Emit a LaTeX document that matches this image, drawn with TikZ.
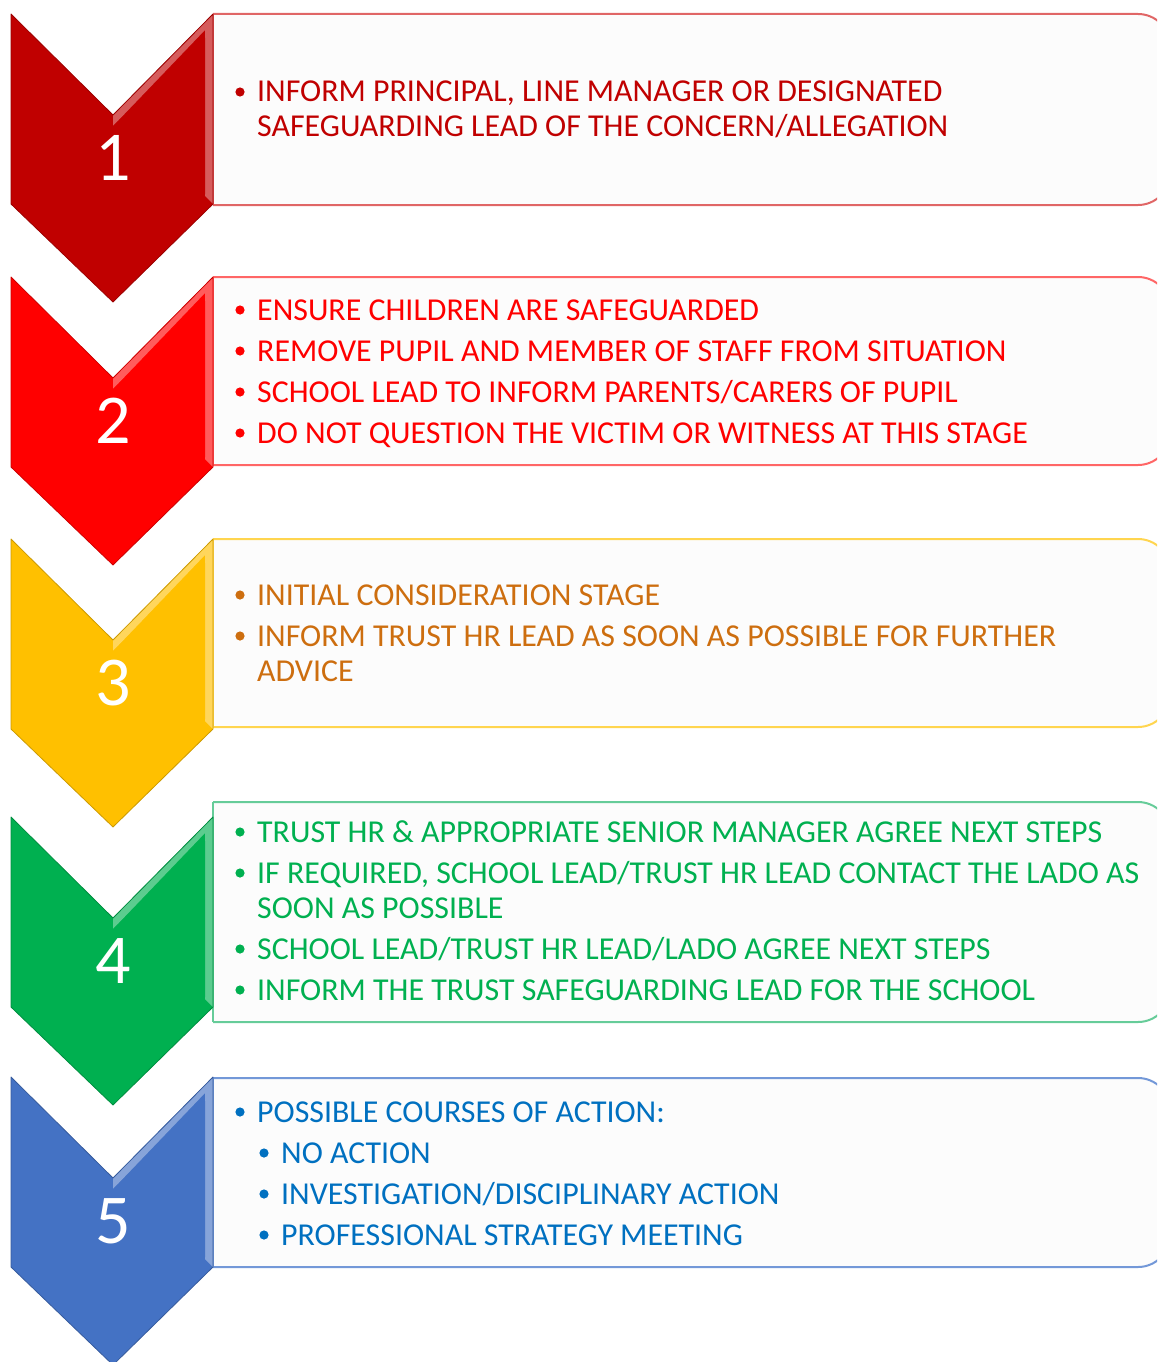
\documentclass[tikz,border=0pt]{standalone}
\usepackage{fontspec}
\setmainfont{Carlito}
\definecolor{c1}{HTML}{C00000}
\definecolor{c2}{HTML}{FF0000}
\definecolor{c3}{HTML}{FFC000}
\definecolor{c4}{HTML}{00B050}
\definecolor{c5}{HTML}{4472C4}
\definecolor{t1}{HTML}{C00000}
\definecolor{t2}{HTML}{FF0000}
\definecolor{t3}{RGB}{205,110,15}
\definecolor{t4}{HTML}{00B050}
\definecolor{t5}{HTML}{0070C0}
\definecolor{b1}{HTML}{E06666}
\definecolor{b2}{HTML}{FF6666}
\definecolor{b3}{HTML}{FFD54F}
\definecolor{b4}{HTML}{66CC99}
\definecolor{b5}{HTML}{7398D8}
\definecolor{boxfill}{HTML}{FCFCFC}
\tikzset{
  itemtext/.style={anchor=base west, inner sep=0pt, font=\fontsize{31.9}{38}\selectfont},
  numtext/.style={text=white, inner sep=0pt, font=\fontsize{70}{82}\selectfont},
}
% chevron: #1 top y, #2 colour
\newcommand{\mychev}[3]{%
  \fill[#2] (11,#1) -- (113,#1+101) -- (213,#1) -- (213,#1+190) -- (113,#1+288) -- (11,#1+190) -- cycle;
  \fill[#2!55!white, opacity=0.8] (113,#1+101) -- (213,#1) -- (213,#1+190) -- (205,#1+182) -- (205,#1+16) -- (113,#1+112) -- cycle;
  \fill[#2] (113,#1+112) -- (205,#1+24) -- (205,#1+180) -- (113,#1+120) -- cycle;
  \draw[#2!80!black, line width=0.8pt, line join=round] (11,#1) -- (113,#1+101) -- (213,#1) -- (213,#1+190) -- (113,#1+288) -- (11,#1+190) -- cycle;
  \node[numtext] (n#3) at (113,#1+144) {#3};
}
\newcommand{\mybox}[4]{%
  \draw[#3, line width=2pt, fill=boxfill, rounded corners=32pt] (213,#1) -- (1170,#1) -- (1170,#2) -- (213,#2);
  \fill[boxfill] (212,#1+1) rectangle (214,#2-1);
  \draw[#3, line width=2pt] (213,#1) -- (213,#2);
  \node[inner sep=0pt, minimum width=0pt] (#4) at (600,{(#1+#2)/2}) {};
}
\newcommand{\bul}[3]{\fill[#3] (#1,#2) circle (4.6);}
\begin{document}
\begin{tikzpicture}[x=1pt,y=-1pt]
\useasboundingbox (0,0) rectangle (1157,1362);
\clip (0,0) rectangle (1157,1362);
% boxes
\mybox{14}{205}{b1}{box1}
\mybox{277}{465}{b2}{box2}
\mybox{539}{727}{b3}{box3}
\mybox{802}{1022}{b4}{box4}
\mybox{1078}{1267}{b5}{box5}
% chevrons
\mychev{14}{c1}{1}
\mychev{277}{c2}{2}
\mychev{539}{c3}{3}
\mychev{817}{c4}{4}
\mychev{1077}{c5}{5}
% box 1
\bul{240}{92}{t1}
\node[itemtext, text=t1] (l11) at (257,102) {INFORM PRINCIPAL, LINE MANAGER OR DESIGNATED};
\node[itemtext, text=t1] (l12) at (257,137) {SAFEGUARDING LEAD OF THE CONCERN/ALLEGATION};
% box 2
\bul{240}{310}{t2}
\node[itemtext, text=t2] (l21) at (257,320) {ENSURE CHILDREN ARE SAFEGUARDED};
\bul{240}{351}{t2}
\node[itemtext, text=t2] (l22) at (257,361) {REMOVE PUPIL AND MEMBER OF STAFF FROM SITUATION};
\bul{240}{392}{t2}
\node[itemtext, text=t2] (l23) at (257,402) {SCHOOL LEAD TO INFORM PARENTS/CARERS OF PUPIL};
\bul{240}{433}{t2}
\node[itemtext, text=t2] (l24) at (257,443) {DO NOT QUESTION THE VICTIM OR WITNESS AT THIS STAGE};
% box 3
\bul{240}{595}{t3}
\node[itemtext, text=t3] (l31) at (257,605) {INITIAL CONSIDERATION STAGE};
\bul{240}{636}{t3}
\node[itemtext, text=t3] (l32) at (257,646) {INFORM TRUST HR LEAD AS SOON AS POSSIBLE FOR FURTHER};
\node[itemtext, text=t3] (l33) at (257,681) {ADVICE};
% box 4
\bul{240}{832}{t4}
\node[itemtext, text=t4] (l41) at (257,842) {TRUST HR \& APPROPRIATE SENIOR MANAGER AGREE NEXT STEPS};
\bul{240}{873}{t4}
\node[itemtext, text=t4] (l42) at (257,883) {IF REQUIRED, SCHOOL LEAD/TRUST HR LEAD CONTACT THE LADO AS};
\node[itemtext, text=t4] (l43) at (257,918) {SOON AS POSSIBLE};
\bul{240}{949}{t4}
\node[itemtext, text=t4] (l44) at (257,959) {SCHOOL LEAD/TRUST HR LEAD/LADO AGREE NEXT STEPS};
\bul{240}{990}{t4}
\node[itemtext, text=t4] (l45) at (257,1000) {INFORM THE TRUST SAFEGUARDING LEAD FOR THE SCHOOL};
% box 5
\bul{240}{1112}{t5}
\node[itemtext, text=t5] (l51) at (257,1122) {POSSIBLE COURSES OF ACTION:};
\bul{264}{1153}{t5}
\node[itemtext, text=t5] (l52) at (281,1163) {NO ACTION};
\bul{264}{1194}{t5}
\node[itemtext, text=t5] (l53) at (281,1204) {INVESTIGATION/DISCIPLINARY ACTION};
\bul{264}{1235}{t5}
\node[itemtext, text=t5] (l54) at (281,1245) {PROFESSIONAL STRATEGY MEETING};
\end{tikzpicture}
\end{document}
